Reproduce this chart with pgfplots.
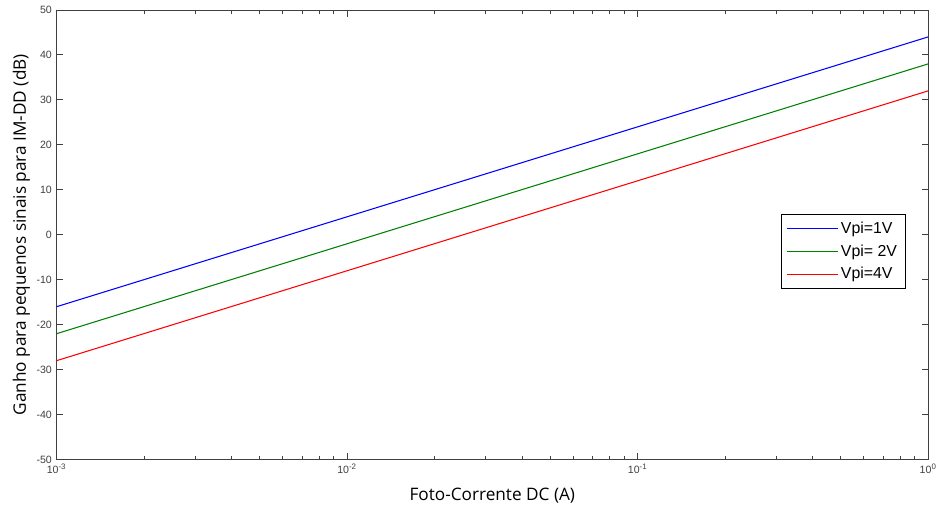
\documentclass[border=0pt]{standalone}
\usepackage{pgfplots}
\pgfplotsset{compat=1.18}
\usepackage{fontspec}
\setmainfont{Liberation Sans}
\newfontfamily\labelfont{Open Sans}
\definecolor{mgreen}{rgb}{0,0.5,0}
\definecolor{tickgray}{rgb}{0.25,0.25,0.25}

\begin{document}
\begin{tikzpicture}
\begin{axis}[
    scale only axis,
    width=659pt, height=340pt,
    xmode=log,
    xmin=1e-3, xmax=1, ymin=-50, ymax=50,
    ytick={-50,-40,...,50},
    xtick={1e-3,1e-2,1e-1,1},
    xticklabels={10\textsuperscript{-3},10\textsuperscript{-2},10\textsuperscript{-1},10\textsuperscript{0}},
    tick align=inside,
    major tick length=5pt,
    minor tick length=3pt,
    axis line style={tickgray, line width=0.6pt},
    every tick/.style={tickgray, line width=0.6pt},
    tick label style={font=\fontsize{8}{9}\selectfont, text=tickgray},
    /pgf/number format/assume math mode=true,
    xlabel={\labelfont Foto-Corrente DC (A)},
    ylabel={\labelfont Ganho para pequenos sinais para IM-DD (dB)},
    label style={font=\fontsize{13}{15}\selectfont},
    xlabel style={yshift=-4pt},
    ylabel style={yshift=-2pt},
    legend style={at={(rel axis cs:0.831,0.547)}, anchor=north west,
        font=\fontsize{12}{14}\selectfont,
        inner xsep=4pt, inner ysep=4pt, row sep=3pt,
        nodes={inner xsep=2pt}},
    legend cell align=left,
    legend image code/.code={\draw[#1] (0cm,0cm) -- (1.35cm,0cm);},
]
\addplot[blue, line width=0.8pt] coordinates {(1e-3,-16) (1e-2,4) (1e-1,24) (1,44)};
\addlegendentry{Vpi=1V\hspace{6pt}}
\addplot[mgreen, line width=0.8pt] coordinates {(1e-3,-22) (1e-2,-2) (1e-1,18) (1,38)};
\addlegendentry{Vpi= 2V}
\addplot[red, line width=0.8pt] coordinates {(1e-3,-28) (1e-2,-8) (1e-1,12) (1,32)};
\addlegendentry{Vpi=4V}
\end{axis}
\useasboundingbox (current axis.south west) ++(-42.75pt,-35.25pt) rectangle ([shift={(3.75pt,7.5pt)}]current axis.north east);
\end{tikzpicture}
\end{document}
